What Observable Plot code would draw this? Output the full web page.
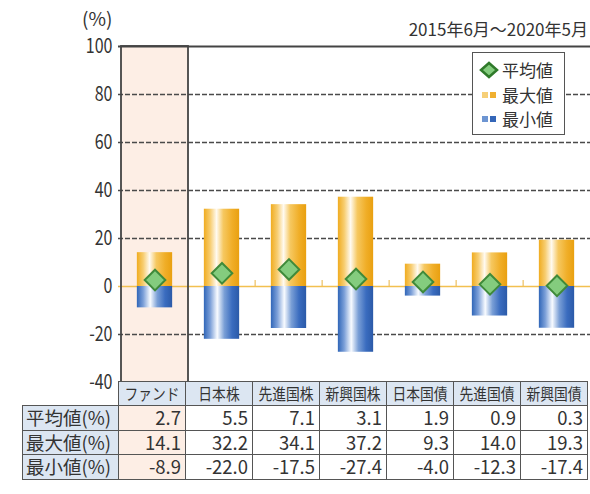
<!DOCTYPE html>
<html><head><meta charset="utf-8">
<script src="https://cdn.jsdelivr.net/npm/d3@7"></script>
<script src="https://cdn.jsdelivr.net/npm/@observablehq/plot@0.6"></script>
<style>
body{margin:0;background:#fff;font-family:"Noto Sans CJK JP","Noto Sans",sans-serif;color:#333;}
#wrap{position:relative;width:590px;height:494px;overflow:hidden;background:#fff;}
#wrap > svg{position:absolute;left:0;top:0;}
.unit{position:absolute;left:82px;top:6px;font-size:19px;line-height:24px;color:#333;}
.period{position:absolute;right:2px;top:18px;font-size:17px;line-height:22px;color:#333;white-space:nowrap;}
.legend{position:absolute;left:472px;top:52px;width:91px;height:81px;border:1.5px solid #555;background:#fff;box-sizing:content-box;}
.legend .item{position:absolute;left:6px;font-size:17px;line-height:22px;display:flex;align-items:center;color:#333;}
.legend svg{margin-right:3px;}
table.tbl{position:absolute;border-collapse:collapse;table-layout:fixed;font-size:18.5px;color:#333;}
table.tbl td{border:1.5px solid #555;padding:0 4px 0 0;text-align:right;white-space:nowrap;line-height:23.5px;height:23.5px;vertical-align:middle;}
table.tbl td.hdr{background:#dce6f2;text-align:center;padding:0;font-size:16px;height:21.5px;line-height:21.5px;}
table.tbl td.hdr span{display:inline-block;transform:scaleX(0.86);transform-origin:center;}
table.tbl td.lab{background:#dce6f2;text-align:left;padding-left:3px;}
table.tbl td.fund{background:#fdeee5;}
table.tbl td.corner{border:none;background:transparent;}
</style></head><body><div id="wrap"></div>
<script>
const categories = ["ファンド","日本株","先進国株","新興国株","日本国債","先進国債","新興国債"];
const meanValues = [2.7, 5.5, 7.1, 3.1, 1.9, 0.9, 0.3];
const maxValues  = [14.1, 32.2, 34.1, 37.2, 9.3, 14.0, 19.3];
const minValues  = [-8.9, -22.0, -17.5, -27.4, -4.0, -12.3, -17.4];
const rowLabels = ["平均値(%)","最大値(%)","最小値(%)"];
const rowKeys = ["mean","max","min"];
const yTicks = [100, 80, 60, 40, 20, 0, -20, -40];
const gridValues = [80, 60, 40, 20, -20];
const legendLabels = ["平均値","最大値","最小値"];
const periodLabel = "2015年6月～2020年5月";
const unitLabel = "(%)";

const data = categories.map((c, i) => ({category: c, mean: meanValues[i], max: maxValues[i], min: minValues[i]}));

const W = 590, H = 384, ML = 118, MT = 46, MB = 2, MR = -2;
const bw = (W - ML - MR) / categories.length;
const inset = (bw - 36) / 2;

const plot = Plot.plot({
  width: W, height: H, marginLeft: ML, marginTop: MT, marginBottom: MB, marginRight: MR,
  style: {fontFamily: '"Noto Sans CJK JP","Noto Sans",sans-serif', fontSize: "20px", color: "#333", background: "transparent", overflow: "visible"},
  x: {domain: categories, padding: 0, axis: null},
  y: {domain: [-40, 100], ticks: yTicks, tickSize: 0, tickPadding: 6, label: null, tickFormat: d => String(d)},
  marks: [
    Plot.barY([data[0]], {x: "category", y1: -40, y2: 100, fill: "#fdeee5"}),
    Plot.ruleY(gridValues, {stroke: "#4a4a4a", strokeWidth: 1.6, strokeDasharray: "5,2"}),
    Plot.ruleY([0], {stroke: "#f2c050", strokeWidth: 1.5}),
    Plot.ruleX(categories.slice(2), {y1: 0, y2: 2.5, dx: -bw / 2, stroke: "#eec060", strokeWidth: 1.2}),
    Plot.barY(data, {x: "category", y1: 0, y2: "max", fill: "url(#gradMax)", insetLeft: inset, insetRight: inset}),
    Plot.barY(data, {x: "category", y1: 0, y2: "min", fill: "url(#gradMin)", insetLeft: inset, insetRight: inset}),
    Plot.dot(data, {x: "category", y: "mean", symbol: "diamond2", r: 9.3, fill: "#84cc7e", stroke: "#3f8a3a", strokeWidth: 2}),
    Plot.barY([data[0]], {x: "category", y1: -40, y2: 100, fill: "none", stroke: "#444", strokeWidth: 1.8}),
    Plot.ruleY([100], {stroke: "#444", strokeWidth: 1.8})
  ]
});

const defs = d3.select(plot).insert("defs", ":first-child");
function grad(id, stops) {
  const g = defs.append("linearGradient").attr("id", id).attr("x1", "0").attr("x2", "1").attr("y1", "0").attr("y2", "0");
  stops.forEach(([o, c]) => g.append("stop").attr("offset", o).attr("stop-color", c));
}
grad("gradMax", [[0, "#f0ac20"], [0.18, "#f7cd70"], [0.36, "#fffaf0"], [0.55, "#f6c860"], [0.8, "#f0ae28"], [1, "#e9a010"]]);
grad("gradMin", [[0, "#3066b8"], [0.18, "#7b9fd8"], [0.38, "#f8fbff"], [0.58, "#7a9fd6"], [0.8, "#3a6cbf"], [1, "#2b5aa8"]]);

// narrow the y tick labels like the reference's condensed digits
d3.select(plot).selectAll('g[aria-label="y-axis tick label"] text').each(function() {
  const t = this.getAttribute("transform");
  if (t) this.setAttribute("transform", t + " scale(0.8,1)");
  else {
    const x = this.getAttribute("x") || 0, y = this.getAttribute("y") || 0;
    this.setAttribute("x", 0); this.setAttribute("y", 0);
    this.setAttribute("transform", `translate(${x},${y}) scale(0.8,1)`);
  }
});

const wrap = document.getElementById("wrap");
wrap.appendChild(plot);

const unit = document.createElement("div"); unit.className = "unit"; unit.textContent = unitLabel; wrap.appendChild(unit);
const period = document.createElement("div"); period.className = "period"; period.textContent = periodLabel; wrap.appendChild(period);

// legend
const legend = document.createElement("div"); legend.className = "legend";
const swatches = [
  `<svg width="20" height="18"><polygon points="10,2 18,9 10,16 2,9" fill="#84cc7e" stroke="#2f7a2a" stroke-width="2.5"/></svg>`,
  `<svg width="20" height="18"><rect x="3" y="6" width="6" height="6" fill="#f6cf78"/><rect x="11" y="6" width="6" height="6" fill="#f0b030"/></svg>`,
  `<svg width="20" height="18"><rect x="3" y="6" width="6" height="6" fill="#6d95d2"/><rect x="11" y="6" width="6" height="6" fill="#3466b8"/></svg>`
];
legendLabels.forEach((l, i) => {
  const it = document.createElement("div"); it.className = "item"; it.style.top = (6 + i * 24.5) + "px";
  it.innerHTML = swatches[i] + `<span>${l}</span>`;
  legend.appendChild(it);
});
wrap.appendChild(legend);

// table
const xs = plot.scale("x");
const tbl = document.createElement("table"); tbl.className = "tbl";
tbl.style.left = "22px"; tbl.style.top = (H - MB - 1) + "px";
const cg = document.createElement("colgroup");
const c0 = document.createElement("col"); c0.style.width = (ML - 22) + "px"; cg.appendChild(c0);
categories.forEach(() => { const c = document.createElement("col"); c.style.width = xs.bandwidth + "px"; cg.appendChild(c); });
tbl.appendChild(cg);
tbl.style.width = (ML - 22 + xs.bandwidth * categories.length) + "px";
const hr = document.createElement("tr");
const corner = document.createElement("td"); corner.className = "corner"; hr.appendChild(corner);
categories.forEach(c => { const td = document.createElement("td"); td.className = "hdr"; td.innerHTML = `<span>${c}</span>`; hr.appendChild(td); });
tbl.appendChild(hr);
rowKeys.forEach((k, r) => {
  const tr = document.createElement("tr");
  const lab = document.createElement("td"); lab.className = "lab"; lab.textContent = rowLabels[r]; tr.appendChild(lab);
  data.forEach((d, i) => {
    const td = document.createElement("td"); if (i === 0) td.className = "fund";
    td.textContent = d[k].toFixed(1); tr.appendChild(td);
  });
  tbl.appendChild(tr);
});
wrap.appendChild(tbl);
</script></body></html>
